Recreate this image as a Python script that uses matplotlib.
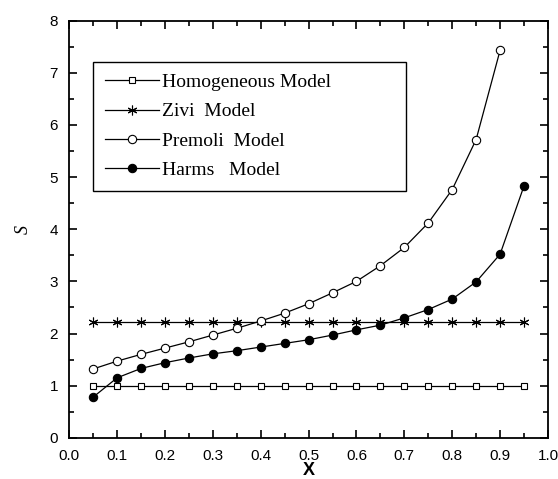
import numpy as np
import matplotlib.pyplot as plt
from matplotlib.ticker import MultipleLocator

x = [0.05, 0.10, 0.15, 0.20, 0.25, 0.30, 0.35, 0.40, 0.45, 0.50,
     0.55, 0.60, 0.65, 0.70, 0.75, 0.80, 0.85, 0.90, 0.95]
homogeneous = [1.0] * 19
zivi = [2.23] * 19
x_premoli = x[:18]
premoli = [1.32, 1.47, 1.60, 1.72, 1.84, 1.97, 2.10, 2.24, 2.39, 2.57,
           2.78, 3.00, 3.30, 3.65, 4.12, 4.76, 5.72, 7.43]
harms = [0.78, 1.15, 1.33, 1.44, 1.53, 1.61, 1.67, 1.74, 1.81, 1.88,
         1.97, 2.07, 2.16, 2.30, 2.46, 2.66, 2.99, 3.52, 4.83]

plt.rcParams['font.family'] = ['Liberation Sans', 'DejaVu Sans']

fig = plt.figure(figsize=(5.58, 4.79), dpi=100)
ax = fig.add_axes([0.124, 0.086, 0.858, 0.871])

lw = 0.9
ax.plot(x, homogeneous, '-s', color='black', lw=lw, ms=5, mfc='white', mew=0.8,
        label='Homogeneous Model')
ax.plot(x, zivi, '-', color='black', lw=lw, marker=(6, 2, 0), ms=7, mew=0.8,
        label='Zivi  Model')
ax.plot(x_premoli, premoli, '-o', color='black', lw=lw, ms=6, mfc='white', mew=0.8,
        label='Premoli  Model')
ax.plot(x, harms, '-o', color='black', lw=lw, ms=6, mfc='black', mew=0.8,
        label='Harms   Model')

ax.set_xlim(0.0, 1.0)
ax.set_ylim(0, 8)
ax.xaxis.set_major_locator(MultipleLocator(0.1))
ax.xaxis.set_minor_locator(MultipleLocator(0.05))
ax.yaxis.set_major_locator(MultipleLocator(1))
ax.yaxis.set_minor_locator(MultipleLocator(0.5))
ax.xaxis.set_major_formatter(plt.FormatStrFormatter('%.1f'))
ax.tick_params(which='both', direction='in', top=True, right=True, width=1.2,
               labelsize=11)
ax.tick_params(which='major', length=6)
ax.tick_params(which='minor', length=3.5)
ax.tick_params(axis='x', which='major', pad=8)
ax.tick_params(axis='y', which='major', pad=8)
for s in ax.spines.values():
    s.set_linewidth(1.3)

ax.set_xlabel('X', fontsize=13, fontweight='bold', labelpad=-1)
ax.set_ylabel('S', fontsize=13, fontstyle='italic', family='Liberation Serif',
              labelpad=13)

# wide legend box, like the original
leg = ax.legend(loc='upper left', bbox_to_anchor=(0.05, 0.0, 0.653, 0.901),
                mode='expand', frameon=True,
                fancybox=False, edgecolor='black', framealpha=1,
                prop={'family': 'Liberation Serif', 'size': 14},
                handlelength=2.8, handletextpad=0.15, labelspacing=0.6,
                borderpad=0.6, borderaxespad=0)
leg.get_frame().set_linewidth(1.0)

fig.savefig('out.png', dpi=100)
